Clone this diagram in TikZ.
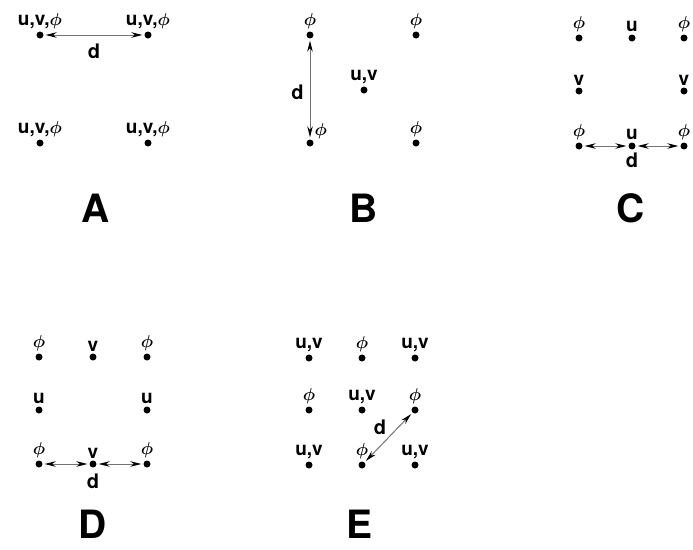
\documentclass[tikz,border=0pt]{standalone}
\usepackage{amsmath}
\usepackage{fontspec}
\setmainfont{TeX Gyre Heros}
\usetikzlibrary{arrows.meta}

\newcommand{\phisym}{$\boldsymbol{\phi}$}

\begin{document}
\begin{tikzpicture}[
  x=1pt,y=-1pt,
  pt/.style={circle,fill=black,inner sep=0pt,minimum size=7pt},
  lab/.style={font=\fontsize{19}{21}\selectfont\bfseries,inner sep=1pt,label distance=1pt},
  panel/.style={font=\fontsize{39}{42}\selectfont\bfseries,inner sep=0pt},
  dlab/.style={font=\fontsize{20}{22}\selectfont\bfseries,inner sep=2pt},
  dist/.style={{Stealth[length=11pt,width=5.5pt,black]}-{Stealth[length=11pt,width=5.5pt,black]},line width=1pt,draw=black!55,shorten <=2pt,shorten >=2pt}
]
\useasboundingbox[fill=white] (0,0) rectangle (693,549);

% panel A
\node[pt,label={[lab]above:{u,v,\phisym}}] (a1) at (40,35) {};
\node[pt,label={[lab]above:{u,v,\phisym}}] (a2) at (148,35) {};
\node[pt,label={[lab]above:{u,v,\phisym}}] (a3) at (40,143) {};
\node[pt,label={[lab]above:{u,v,\phisym}}] (a4) at (148,143) {};
\draw[dist] (a1) -- node[dlab,below=6pt] {d} (a2);
\node[panel] (pA) at (96,208) {A};

% panel B
\node[pt,label={[lab]above:\phisym}] (b1) at (310,35) {};
\node[pt,label={[lab]above:\phisym}] (b2) at (416,35) {};
\node[pt,label={[lab]above:{u,v}}] (b3) at (364,90) {};
\node[pt,label={[lab]above right:\phisym}] (b4) at (310,143) {};
\node[pt,label={[lab]above:\phisym}] (b5) at (416,143) {};
\draw[dist] (b1) -- node[dlab,left=4pt,pos=0.53] {d} (b4);
\node[panel] (pB) at (364,208) {B};

% panel C
\node[pt,label={[lab]above:\phisym}] (c1) at (579,38) {};
\node[pt,label={[lab]above:u}] (c2) at (632,38) {};
\node[pt,label={[lab]above:\phisym}] (c3) at (684,38) {};
\node[pt,label={[lab]above:v}] (c4) at (579,91) {};
\node[pt,label={[lab]above:v}] (c6) at (684,91) {};
\node[pt,label={[lab]above:\phisym}] (c7) at (579,146) {};
\node[pt,label={[lab]above:u}] (c8) at (632,146) {};
\node[pt,label={[lab]above:\phisym}] (c9) at (684,146) {};
\draw[dist] (c8) -- (c7);
\draw[dist] (c8) -- (c9);
\node[dlab,below=5pt] (dC) at (c8) {d};
\node[panel] (pC) at (631,208) {C};

% panel D
\node[pt,label={[lab]above:\phisym}] (d1) at (39,357) {};
\node[pt,label={[lab]above:v}] (d2) at (93,357) {};
\node[pt,label={[lab]above:\phisym}] (d3) at (147,357) {};
\node[pt,label={[lab]above:u}] (d4) at (39,410) {};
\node[pt,label={[lab]above:u}] (d6) at (147,410) {};
\node[pt,label={[lab]above:\phisym}] (d7) at (39,464) {};
\node[pt,label={[lab]above:v}] (d8) at (93,464) {};
\node[pt,label={[lab]above:\phisym}] (d9) at (147,464) {};
\draw[dist] (d8) -- (d7);
\draw[dist] (d8) -- (d9);
\node[dlab,below=8pt] (dD) at (d8) {d};
\node[panel] (pD) at (93,524) {D};

% panel E
\node[pt,label={[lab]above:{u,v}}] (e1) at (309,358) {};
\node[pt,label={[lab]above:\phisym}] (e2) at (362,358) {};
\node[pt,label={[lab]above:{u,v}}] (e3) at (415,358) {};
\node[pt,label={[lab]above:\phisym}] (e4) at (309,410) {};
\node[pt,label={[lab]above:{u,v}}] (e5) at (362,410) {};
\node[pt,label={[lab]above:\phisym}] (e6) at (415,410) {};
\node[pt,label={[lab]above:{u,v}}] (e7) at (309,465) {};
\node[pt,label={[lab]above:\phisym}] (e8) at (362,465) {};
\node[pt,label={[lab]above:{u,v}}] (e9) at (415,465) {};
\draw[dist] (e8) -- node[dlab,above left=0pt,pos=0.5] {d} (e6);
\node[panel] (pE) at (360,524) {E};

\end{tikzpicture}
\end{document}
